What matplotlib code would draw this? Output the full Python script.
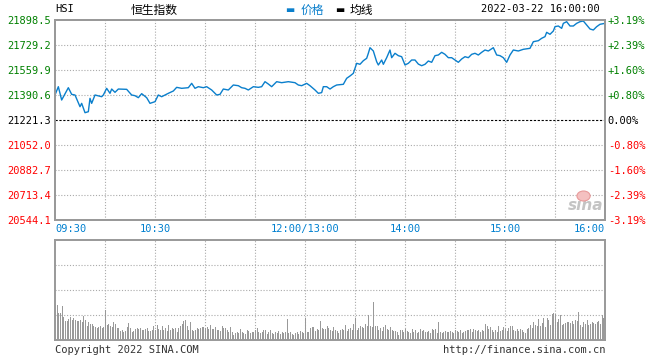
import numpy as np
import matplotlib
matplotlib.use("Agg")
import matplotlib.pyplot as plt
from matplotlib.patches import Ellipse

# ---------------- data ----------------
prev_close = 21221.3
y_ticks = [20544.1, 20713.4, 20882.7, 21052.0, 21221.3, 21390.6, 21559.9, 21729.2, 21898.5]
pct_labels = ["-3.19%", "-2.39%", "-1.60%", "-0.80%", "0.00%", "+0.80%", "+1.60%", "+2.39%", "+3.19%"]
time_labels = ["09:30", "10:30", "12:00/13:00", "14:00", "15:00", "16:00"]
time_label_at = ["09:30", "10:30", "12:00", "14:00", "15:00", "16:00"]

times = ["09:30", "09:32", "09:34", "09:38", "09:40", "09:42", "09:45", "09:46", "09:48", "09:50",
         "09:51", "09:52", "09:54", "09:58", "09:59", "10:01", "10:03", "10:04", "10:06", "10:08",
         "10:13", "10:16", "10:18", "10:20", "10:22", "10:25", "10:27", "10:30", "10:32", "10:34",
         "10:38", "10:41", "10:43", "10:46", "10:50", "10:52", "10:54", "10:56", "10:59", "11:01",
         "11:04", "11:07", "11:09", "11:11", "11:14", "11:17", "11:20", "11:22", "11:24", "11:26",
         "11:29", "11:32", "11:34", "11:36", "11:38", "11:40", "11:43", "11:46", "11:50", "11:54",
         "11:56", "11:58", "13:01", "13:03", "13:06", "13:08", "13:10", "13:11", "13:13", "13:15",
         "13:17", "13:19", "13:23", "13:25", "13:27", "13:29", "13:31", "13:33", "13:35", "13:37",
         "13:38", "13:39", "13:41", "13:43", "13:44", "13:46", "13:47", "13:49", "13:51", "13:52",
         "13:54", "13:56", "13:58", "14:00", "14:02", "14:04", "14:06", "14:08", "14:10", "14:12",
         "14:14", "14:16", "14:18", "14:20", "14:22", "14:24", "14:26", "14:28", "14:30", "14:32",
         "14:34", "14:36", "14:38", "14:40", "14:42", "14:44", "14:46", "14:48", "14:50", "14:53",
         "14:55", "14:57", "14:59", "15:01", "15:03", "15:05", "15:08", "15:11", "15:15", "15:17",
         "15:20", "15:22", "15:24", "15:25", "15:27", "15:29", "15:30", "15:32", "15:34", "15:35",
         "15:37", "15:39", "15:41", "15:43", "15:45", "15:47", "15:49", "15:51", "15:53", "15:55",
         "15:57", "16:00"]

prices = [21390.6, 21446.9, 21356.7, 21440.1, 21395.0, 21390.6, 21311.4, 21334.0, 21270.8, 21277.5,
          21368.0, 21334.0, 21390.6, 21379.0, 21390.6, 21435.8, 21402.0, 21431.0, 21408.8, 21431.0,
          21429.0, 21390.6, 21386.0, 21372.5, 21399.6, 21372.5, 21334.0, 21345.5, 21390.6, 21379.0,
          21402.0, 21417.7, 21442.5, 21435.8, 21440.1, 21469.6, 21435.8, 21446.9, 21440.1, 21446.9,
          21424.5, 21390.6, 21395.0, 21431.0, 21424.5, 21458.3, 21453.6, 21440.1, 21435.8, 21424.5,
          21446.9, 21442.5, 21446.9, 21480.8, 21465.0, 21446.9, 21480.8, 21474.0, 21480.8, 21474.0,
          21458.3, 21453.6, 21469.6, 21453.6, 21424.5, 21402.0, 21406.7, 21446.9, 21446.9, 21431.0,
          21446.9, 21458.3, 21463.0, 21503.6, 21519.3, 21537.4, 21605.2, 21598.5, 21623.0, 21639.0,
          21673.0, 21711.0, 21688.6, 21616.0, 21593.8, 21627.6, 21598.5, 21643.3, 21695.3, 21643.3,
          21673.0, 21657.0, 21650.0, 21593.8, 21605.2, 21627.6, 21627.6, 21600.0, 21589.0, 21598.5,
          21620.8, 21612.0, 21657.0, 21661.5, 21679.6, 21666.0, 21643.3, 21643.3, 21627.6, 21612.0,
          21634.4, 21650.0, 21643.3, 21666.0, 21673.0, 21661.5, 21679.6, 21695.3, 21688.6, 21711.0,
          21661.5, 21657.0, 21643.3, 21612.0, 21661.5, 21695.3, 21688.6, 21700.0, 21706.7, 21751.6,
          21758.3, 21774.6, 21785.7, 21815.0, 21801.6, 21824.0, 21853.3, 21857.9, 21842.1, 21875.9,
          21887.0, 21857.9, 21857.9, 21875.9, 21887.0, 21891.7, 21864.6, 21837.6, 21830.8, 21853.3,
          21869.4, 21875.9]

# per-minute volume, in panel units (100 = top of the volume box)
volume = [36, 35, 27, 27, 34, 23, 19,
          19, 21, 23, 20, 22, 20,
          19, 19, 20, 18, 24, 20,
          14, 18, 16, 16, 14, 13,
          12, 13, 14, 12, 13,
          30,
          15, 16, 14, 13, 18, 16, 12, 12,
          9, 10, 8, 9, 13, 17, 12, 8, 9,
          11, 12, 11, 12, 10, 10, 11, 12, 9, 9, 10, 14, 10,
          15, 11, 10, 14, 10, 12, 9, 15, 10, 12, 11, 12, 8, 12, 14,
          16, 19, 20, 14, 10, 18, 10, 9,
          10, 12, 11, 12, 13, 13, 12, 13, 11, 15, 11, 11, 13, 10, 10, 9,
          14, 12, 12, 10, 8, 13, 8, 5, 7, 8, 7, 11, 8, 7, 6, 10,
          9, 7, 8, 8, 10, 12, 8, 7, 8, 10,
          10, 6, 8, 10, 7, 6, 8, 7, 9, 6, 8, 7, 8,
          21,
          7, 8, 6, 5, 7, 8, 6, 9, 8, 7,
          22,
          8, 8, 12, 13, 13, 9, 11, 10, 19, 12, 11, 11, 14, 12, 10,
          9, 13, 10, 9, 7, 10, 11, 10, 15, 9, 11, 12, 10, 16,
          22,
          10, 12, 14, 13, 12, 16, 14,
          25,
          14, 13,
          38,
          14, 14, 10, 12, 9, 13, 15, 11, 10,
          13, 10, 9, 9, 8, 5, 10, 10, 8, 11,
          9, 8, 7, 11, 8, 10, 7, 8, 11, 9, 10, 8, 8, 9, 7,
          11, 10, 11, 7, 18, 8, 7, 8, 9, 8, 8, 9, 8, 7, 10,
          9, 8, 10, 7, 8, 9, 10, 10, 11, 8, 11, 10, 9, 10, 8,
          10, 9, 16, 14, 11, 13, 10, 8, 10, 8, 14, 9, 10, 13, 11,
          9, 12, 14, 14, 10, 9, 11, 9, 11, 10, 8, 7, 11, 12, 15,
          12, 18, 15, 14, 21, 14, 17, 22, 13, 22, 20, 15, 26, 27, 26,
          18, 21, 25, 15, 16, 17, 18, 18, 17, 19, 16, 20, 19, 28, 15,
          13, 18, 16, 20, 15, 16, 18, 17, 16, 18, 19, 16, 25, 22, 32]


def minute_index(t):
    # minutes since 09:30, lunch break 12:00-13:00 removed
    h, m = map(int, t.split(":"))
    mins = h * 60 + m
    if mins >= 13 * 60:
        mins -= 60
    return mins - (9 * 60 + 30)


x_price = [minute_index(t) for t in times]
x_vol = np.arange(len(volume))

# ---------------- styles ----------------
GRID = "#aaaaaa"
FRAME = "#999999"
BLUE = "#0a7fcc"
LABEL_BLUE = "#0080d0"
GREEN = "#008000"
RED = "#ff0000"
MONO = "DejaVu Sans Mono"
CJK = ["Noto Sans CJK SC", "DejaVu Sans"]
dot = (0, (1, 1.6))

fig = plt.figure(figsize=(6.6, 3.6), dpi=100)
fig.patch.set_facecolor("white")

ax = fig.add_axes([55 / 660, 140 / 360, 550 / 660, 200 / 360])
axv = fig.add_axes([55 / 660, 20 / 360, 550 / 660, 100 / 360])

# ---------------- price panel ----------------
ax.set_xlim(0, 330)
ax.set_ylim(y_ticks[0], y_ticks[-1])
for v in y_ticks[1:-1]:
    if v != prev_close:
        ax.axhline(v, color=GRID, lw=0.8, ls=dot, zorder=1)
for m in range(30, 330, 30):
    ax.axvline(m, color=GRID, lw=0.8, ls=dot, zorder=1)
ax.axhline(prev_close, color="black", lw=0.8, ls=(0, (2, 1.5)), zorder=2)

ax.plot(x_price, prices, color=BLUE, lw=1.0, zorder=3)

ax.set_yticks(y_ticks)
ax.set_yticklabels([f"{v:.1f}" for v in y_ticks], fontfamily=MONO, fontsize=7.5)
for lbl, v in zip(ax.get_yticklabels(), y_ticks):
    lbl.set_color(GREEN if v > prev_close else RED if v < prev_close else "black")

tick_x = [minute_index(t) for t in time_label_at]
ax.set_xticks(tick_x)
ax.set_xticklabels(time_labels, fontfamily=MONO, fontsize=7.5, color=LABEL_BLUE)
xl = ax.get_xticklabels()
xl[0].set_ha("left")
xl[-1].set_ha("right")
ax.tick_params(length=0, pad=3)

axr = ax.twinx()
axr.set_ylim(ax.get_ylim())
axr.set_yticks(y_ticks)
axr.set_yticklabels(pct_labels, fontfamily=MONO, fontsize=7.5)
for lbl, v in zip(axr.get_yticklabels(), y_ticks):
    lbl.set_color(GREEN if v > prev_close else RED if v < prev_close else "black")
axr.tick_params(length=0, pad=2)

for a in (ax, axr):
    for s in a.spines.values():
        s.set_color(FRAME)
        s.set_linewidth(1.4)

# sina watermark
ax.text(0.964, 0.07, "sina", transform=ax.transAxes, ha="center", va="center",
        fontsize=11, fontweight="bold", fontstyle="italic", color="#c4c4c4", zorder=2)
ax.add_patch(Ellipse((0.961, 0.12), 0.024, 0.05, transform=ax.transAxes,
                     facecolor="#f4c0c0", edgecolor="#e89a9a", lw=0.8, zorder=2))

# header
fig.text(55 / 660, 1 - 9 / 360, "HSI", fontfamily=MONO, fontsize=7.5, va="center", ha="left")
fig.text(154 / 660, 1 - 10 / 360, "恒生指数", family=CJK, fontsize=8.5, va="center", ha="center")
fig.text(290 / 660, 1 - 10 / 360, "▬", family=["DejaVu Sans"], fontsize=7, color=BLUE,
         va="center", ha="center")
fig.text(301 / 660, 1 - 10 / 360, "价格", family=CJK, fontsize=8.5, color=BLUE, va="center", ha="left")
fig.text(340 / 660, 1 - 10 / 360, "▬", family=["DejaVu Sans"], fontsize=7, color="black",
         va="center", ha="center")
fig.text(350 / 660, 1 - 10 / 360, "均线", family=CJK, fontsize=8.5, va="center", ha="left")
fig.text(600 / 660, 1 - 9 / 360, "2022-03-22 16:00:00", fontfamily=MONO, fontsize=7.5,
         va="center", ha="right")

# ---------------- volume panel ----------------
axv.vlines(x_vol, 0, volume, colors="#999999", lw=0.5, antialiased=False, zorder=2)
axv.set_xlim(0, 330)
axv.set_ylim(0, 100)
for v in (25, 50, 75):
    axv.axhline(v, color=GRID, lw=0.8, ls=dot, zorder=1)
for m in range(30, 330, 30):
    axv.axvline(m, color=GRID, lw=0.8, ls=dot, zorder=1)
axv.set_xticks([])
axv.set_yticks([])
for s in axv.spines.values():
    s.set_color(FRAME)
    s.set_linewidth(1.4)

fig.text(55 / 660, 1 - 350 / 360, "Copyright 2022 SINA.COM", fontfamily=MONO, fontsize=7.5,
         color="#333333", va="center", ha="left")
fig.text(605 / 660, 1 - 350 / 360, "http://finance.sina.com.cn", fontfamily=MONO, fontsize=7.5,
         color="#333333", va="center", ha="right")

fig.savefig("out.png", dpi=100)
